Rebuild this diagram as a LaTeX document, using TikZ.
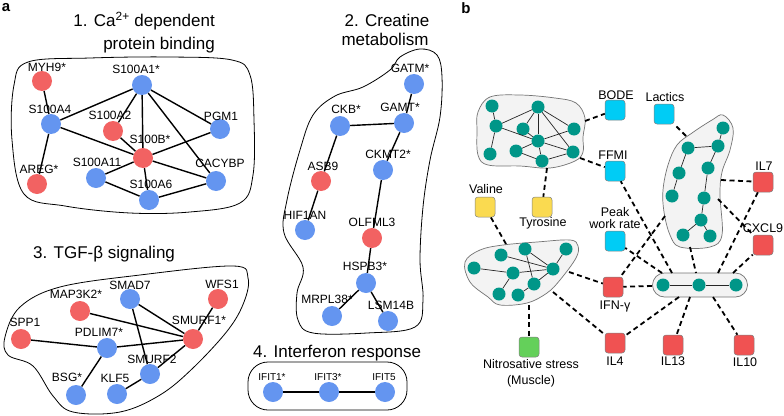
\documentclass[tikz,border=0pt]{standalone}
\usepackage{fontspec}
\setmainfont{Liberation Sans}
\definecolor{genered}{RGB}{242,98,98}
\definecolor{geneblue}{RGB}{100,149,240}
\definecolor{hubteal}{RGB}{0,150,136}
\definecolor{boxcyan}{RGB}{0,204,245}
\definecolor{boxyellow}{RGB}{250,218,80}
\definecolor{boxgreen}{RGB}{100,208,90}
\definecolor{boxred}{RGB}{240,82,82}
\definecolor{cloudgray}{RGB}{243,243,243}
\tikzset{
  panel/.style={font=\fontsize{15}{15}\selectfont\bfseries,inner sep=0pt},
  title/.style={font=\fontsize{17}{20}\selectfont,inner sep=0pt},
  gene/.style={circle,minimum size=20pt,inner sep=0pt},
  glbl/.style={font=\fontsize{12}{12}\selectfont,inner sep=0pt,text height=8.6pt,text depth=0pt},
  smalllbl/.style={font=\fontsize{10}{10}\selectfont,inner sep=0pt,text height=7.2pt,text depth=0pt},
  link/.style={line width=1.4pt},
  outline/.style={line width=0.8pt},
  hub/.style={circle,fill=hubteal,minimum size=13pt,inner sep=0pt},
  hublink/.style={line width=0.7pt,black!85},
  cloud/.style={fill=cloudgray,draw=black!55,line width=0.7pt},
  cbox/.style={rounded corners=3pt,minimum size=20pt,inner sep=0pt,draw=black!50,line width=0.5pt},
  blbl/.style={font=\fontsize{12.5}{12.5}\selectfont,inner sep=0pt,text height=9pt,text depth=0pt},
  assoc/.style={line width=1.8pt,dash pattern=on 5pt off 3.5pt}
}
\begin{document}
\begin{tikzpicture}[x=1pt,y=-1pt]
\useasboundingbox (0,0) rectangle (784,415);

\node[panel] (pa) at (6,8) {a};
\node[panel] (pb) at (466,8) {b};

% 1. Ca2+ dependent protein binding
\node[title,anchor=base east] (t1a) at (215,27) {1. Ca\textsuperscript{2+} dependent};
\node[title,anchor=base east] (t1b) at (215,49) {protein binding};
\draw[outline] plot[smooth cycle,tension=0.6] coordinates {(14,85) (28,62) (90,58) (170,57) (232,60) (250,75) (254,120) (253,175) (240,203) (190,212) (130,213) (65,206) (24,194) (12,140)};
\foreach \nm/\px/\py/\col/\lx/\ly/\txt in {
  myh9/42/81/genered/47/67/MYH9*, s100a1/142/85/geneblue/136/69/S100A1*,
  s100a4/51/124/geneblue/50/109/S100A4, s100a2/113/131/genered/110/115/S100A2,
  pgm1/220/129/geneblue/221/116/PGM1, s100b/143/158/genered/150/139/S100B*,
  areg/37/184/genered/39/169/AREG*, s100a11/96/178/geneblue/97/162/S100A11,
  cacybp/216/181/geneblue/220/163/CACYBP, s100a6/149/200/geneblue/151/184/S100A6}{
  \node[gene,fill=\col] (\nm) at (\px,\py) {};
  \node[glbl] (\nm-t) at (\lx,\ly) {\txt};
}
\foreach \u/\v in {myh9/s100a4, s100a4/areg, s100a4/s100a1, s100a4/s100b,
  s100a1/s100a2, s100a1/s100b, s100a1/pgm1, s100a1/cacybp, s100a2/s100b,
  s100b/pgm1, s100b/s100a11, s100b/s100a6, s100b/cacybp, s100a11/s100a6,
  s100a6/cacybp}
  \draw[link] (\u) -- (\v);

% 2. Creatine metabolism
\node[title,anchor=base] (t2a) at (387,26) {2. Creatine};
\node[title,anchor=base] (t2b) at (385,45) {metabolism};
\draw[outline] plot[smooth cycle,tension=0.6] coordinates {(400,57) (420,49) (437,55) (442,77) (440,117) (430,160) (423,207) (420,260) (423,300) (415,327) (367,333) (313,333) (298,320) (297,293) (303,267) (284,233) (287,200) (300,150) (313,115) (335,96) (363,87) (390,70)};
\foreach \nm/\px/\py/\col/\lx/\ly/\txt in {
  gatm/414/84/geneblue/410/68/GATM*, ckb/340/126/geneblue/346/109/CKB*,
  gamt/404/123/geneblue/400/107/GAMT*, ckmt2/383/170/geneblue/388/154/CKMT2*,
  asb9/321/181/genered/323/166/ASB9, hif1an/305/230/geneblue/305/215/HIF1AN,
  olfml3/372/238/genered/372/222/OLFML3, hspb3/366/283/geneblue/365/266/HSPB3*,
  mrpl38/332/316/geneblue/327/299/MRPL38*, lsm14b/388/321/geneblue/391/305/LSM14B}{
  \node[gene,fill=\col] (\nm) at (\px,\py) {};
  \node[glbl] (\nm-t) at (\lx,\ly) {\txt};
}
\foreach \u/\v in {gatm/gamt, ckb/gamt, ckb/asb9, asb9/hif1an, gamt/ckmt2,
  ckmt2/olfml3, olfml3/hspb3, hspb3/mrpl38, hspb3/lsm14b}
  \draw[link] (\u) -- (\v);

% 3. TGF-beta signaling
\node[title,anchor=base west] (t3) at (33,258) {3. TGF-β signaling};
\draw[outline] plot[smooth cycle,tension=0.6] coordinates {(5,337) (20,307) (60,287) (140,275) (233,266) (248,278) (244,302) (228,330) (193,368) (160,395) (120,412) (73,412) (53,396) (33,366) (8,355)};
\foreach \nm/\px/\py/\col/\lx/\ly/\txt in {
  wfs1/218/299/genered/222/284/WFS1, smad7/130/299/geneblue/130/285/SMAD7,
  map3k2/80/311/genered/76/294/MAP3K2*, spp1/21/339/genered/25/322/SPP1,
  pdlim7/107/348/geneblue/99/332/PDLIM7*, smurf1/193/339/genered/199/320/SMURF1*,
  smurf2/150/374/geneblue/152/359/SMURF2, bsg/76/395/geneblue/67/377/BSG*,
  klf5/117/394/geneblue/115/378/KLF5}{
  \node[gene,fill=\col] (\nm) at (\px,\py) {};
  \node[glbl] (\nm-t) at (\lx,\ly) {\txt};
}
\foreach \u/\v in {map3k2/smurf1, smad7/smurf1, smad7/smurf2, wfs1/smurf1,
  spp1/pdlim7, pdlim7/smurf1, pdlim7/bsg, smurf2/smurf1, klf5/smurf2}
  \draw[link] (\u) -- (\v);

% 4. Interferon response
\node[title,anchor=base west] (t4) at (253,357) {4. Interferon response};
\node[draw,outline,rounded corners=20pt,minimum width=159pt,minimum height=48pt] (ifnbox) at (327.5,386) {};
\foreach \nm/\px/\txt in {ifit1/273/IFIT1*, ifit3/329/IFIT3*, ifit5/385/IFIT5}{
  \node[gene,fill=geneblue] (\nm) at (\px,392) {};
  \node[smalllbl] (\nm-t) at (\px-1,377) {\txt};
}
\draw[link] (ifit1) -- (ifit3);
\draw[link] (ifit3) -- (ifit5);

% b: module clouds
\draw[cloud] plot[smooth cycle,tension=0.6] coordinates {(478,112) (490,97) (520,95) (555,98) (576,103) (585,118) (583,137) (583,152) (575,161) (550,168) (520,166) (488,165) (478,155) (477,130)};
\draw[cloud] plot[smooth cycle,tension=0.6] coordinates {(723,115) (733,128) (730,150) (722,172) (720,195) (722,235) (710,247) (680,247) (670,235) (664,212) (663,190) (668,165) (677,145) (692,133) (712,120)};
\draw[cloud] plot[smooth cycle,tension=0.6] coordinates {(465,262) (480,250) (503,245) (537,242) (570,240) (578,246) (576,258) (560,280) (547,293) (527,303) (500,305) (488,297) (470,282)};
\node[cloud,rounded corners=12pt,minimum width=95pt,minimum height=24pt,inner sep=0pt] (modD) at (700,285) {};

% free ends on the clouds
\coordinate (aBode) at (585,121);
\coordinate (aFfmi) at (580,158);
\coordinate (aTyr) at (547,168);
\coordinate (bLac) at (686,136);
\coordinate (bIl7) at (721,180);
\coordinate (bCx) at (718,199);
\coordinate (bIfn) at (665,216);
\coordinate (bD) at (690,247);
\coordinate (cVal) at (506,244);
\coordinate (cIfn) at (569,272);
\coordinate (cIl4) at (553,292);
\coordinate (cNit) at (529,305);
\coordinate (dPeak) at (662,273);
\coordinate (dFfmi) at (672,273);
\coordinate (dB) at (696,273);
\coordinate (dIl7) at (718,273);
\coordinate (dCx) at (733,273);
\coordinate (dIfn) at (652,286);
\coordinate (dIl4) at (679,297);
\coordinate (dIl13) at (690,297);
\coordinate (dIl10) at (713,297);

% b: clinical boxes
\foreach \nm/\px/\py/\col in {bode/615/110/boxcyan, ffmi/615/171/boxcyan,
  valine/485/207/boxyellow, tyrosine/542/207/boxyellow, peak/615/241/boxcyan,
  lactics/664/114/boxcyan, il7/763/182/boxred, cxcl9/763/245/boxred,
  ifng/613/287/boxred, il4/615/343/boxred, il13/673/345/boxred,
  il10/744/345/boxred, nitro/529/347/boxgreen}
  \node[cbox,fill=\col] (\nm) at (\px,\py) {};

\foreach \lx/\ly/\txt in {616/95/BODE, 613/155/FFMI, 486/189/Valine,
  543/222/Tyrosine, 615/212/Peak, 615/224/work rate, 665/97/Lactics,
  764/166/IL7, 763/228/CXCL9, 615/305/IFN-γ, 615/361/IL4, 673/361/IL13,
  745/362/IL10, 531/364/Nitrosative stress, 531/380/(Muscle)}
  \node[blbl] at (\lx,\ly) {\txt};

% b: associations
\foreach \u/\v in {aBode/bode, aFfmi/ffmi, aTyr/tyrosine, cVal/valine,
  bLac/lactics, bIl7/il7, bCx/cxcl9, bIfn/ifng, bD/dB, cIfn/ifng, cIl4/il4,
  cNit/nitro, dPeak/peak, dFfmi/ffmi, dIl7/il7, dCx/cxcl9, dIfn/ifng,
  dIl4/il4, dIl13/il13, dIl10/il10}
  \draw[assoc] (\u) -- (\v);

% b: module members
\foreach \nm/\px/\py in {a1/492/106, a2/538/107, a3/496/126, a4/523/129,
  a5/574/129, a6/538/141, a7/490/154, a8/516/151, a9/573/152, a10/542/161,
  b1/723/128, b2/688/148, b3/718/146, b4/679/173, b5/708/168, b6/672/196,
  b7/704/198, b8/701/220, b9/683/235, b10/710/236,
  c1/474/268, c2/501/255, c3/525/249, c4/566/249, c5/513/273, c6/553/269,
  c7/534/284, c8/499/294, c9/518/295, d1/663/285, d2/699/285, d3/736/285}
  \node[hub] (\nm) at (\px,\py) {};
\foreach \u/\v in {a1/a3, a3/a7, a3/a2, a3/a6, a2/a6, a2/a4, a2/a5, a2/a9,
  a6/a5, a6/a8, a6/a9, a6/a10, a4/a6, a8/a10, a10/a9,
  b1/b3, b2/b3, b2/b4, b4/b6, b3/b5, b5/b7, b7/b8, b8/b9, b8/b10,
  c1/c5, c2/c6, c3/c6, c3/c7, c4/c6, c5/c6, c6/c7, c5/c8, c7/c9,
  d1/d2, d2/d3}
  \draw[hublink] (\u) -- (\v);
\end{tikzpicture}
\end{document}
